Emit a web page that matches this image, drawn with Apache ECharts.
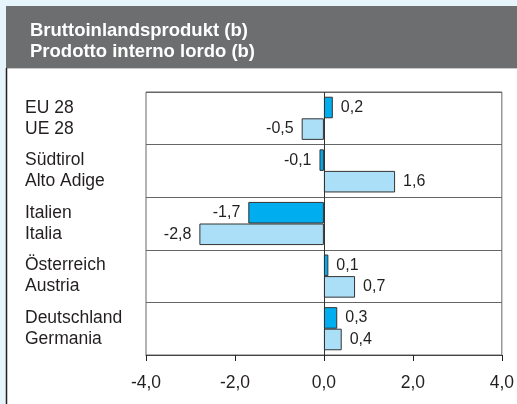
<!DOCTYPE html>
<html>
<head>
<meta charset="utf-8">
<script src="https://cdn.jsdelivr.net/npm/echarts@6/dist/echarts.min.js"></script>
<style>
html,body{margin:0;padding:0;background:#e6f4fb;}
#c{width:517px;height:404px;}
</style>
</head>
<body>
<div id="c"></div>
<script>
var categories = ['EU 28\nUE 28', 'Südtirol\nAlto Adige', 'Italien\nItalia', 'Österreich\nAustria', 'Deutschland\nGermania'];
var seriesDark = [0.2, -0.1, -1.7, 0.1, 0.3];
var seriesLight = [-0.5, 1.6, -2.8, 0.7, 0.4];
var titleLines = ['Bruttoinlandsprodukt (b)', 'Prodotto interno lordo (b)'];

var FONT = '"Liberation Sans", Arial, sans-serif';
function fmt(v) { return v.toFixed(1).replace('.', ','); }
function mk(arr) {
  return arr.map(function (v) {
    return { value: v, label: { position: v < 0 ? 'left' : 'right' } };
  });
}
var labelCfg = {
  show: true, distance: 8, color: '#231f20', fontSize: 16, fontFamily: FONT,
  formatter: function (p) { return fmt(p.value); }
};

var chart = echarts.init(document.getElementById('c'), null, { renderer: 'canvas' });
chart.setOption({
  backgroundColor: '#e6f4fb',
  animation: false,
  graphic: [
    { type: 'rect', shape: { x: 6, y: 6, width: 511, height: 62 }, style: { fill: '#6d6e70' }, z: -10 },
    { type: 'rect', shape: { x: 6, y: 68, width: 511, height: 336 }, style: { fill: '#ffffff' }, z: -10 },
    { type: 'line', shape: { x1: 6, y1: 68.5, x2: 517, y2: 68.5 }, style: { stroke: '#c8c8c8', lineWidth: 1 }, z: -9 },
    { type: 'line', shape: { x1: 6.5, y1: 68, x2: 6.5, y2: 404 }, style: { stroke: '#231f20', lineWidth: 1.5 }, z: -9 }
  ],
  title: {
    text: titleLines.join('\n'),
    left: 25, top: 15,
    textStyle: { color: '#ffffff', fontWeight: 'bold', fontSize: 18.5, fontFamily: FONT, lineHeight: 21 }
  },
  grid: {
    left: 146, right: 14, top: 92, bottom: 49,
    show: true, borderColor: '#666', borderWidth: 1, backgroundColor: '#fff'
  },
  xAxis: {
    type: 'value', min: -4, max: 4, interval: 2,
    axisLine: { show: true, lineStyle: { color: '#444' } },
    axisTick: { show: true, length: 6, lineStyle: { color: '#231f20' } },
    splitLine: { show: false },
    axisLabel: { color: '#231f20', fontSize: 17.5, fontFamily: FONT, margin: 19, formatter: fmt }
  },
  yAxis: {
    type: 'category', inverse: true, data: categories,
    axisLine: { show: false },
    axisTick: { show: false },
    splitLine: { show: true, lineStyle: { color: '#666', width: 1 } },
    axisLabel: { align: 'left', margin: 121, color: '#231f20', fontSize: 17.5, fontFamily: FONT, lineHeight: 21 }
  },
  series: [
    {
      type: 'bar', data: mk(seriesDark), barGap: '0%', barCategoryGap: '18%',
      itemStyle: { color: '#00aeef', borderColor: '#333', borderWidth: 1 },
      label: labelCfg,
      markLine: {
        silent: true, symbol: 'none', label: { show: false },
        lineStyle: { color: '#333', type: 'solid', width: 1 },
        data: [{ xAxis: 0 }], z: 10
      }
    },
    {
      type: 'bar', data: mk(seriesLight), barGap: '0%', barCategoryGap: '18%',
      itemStyle: { color: '#abdff7', borderColor: '#333', borderWidth: 1 },
      label: labelCfg
    }
  ]
});
</script>
</body>
</html>
